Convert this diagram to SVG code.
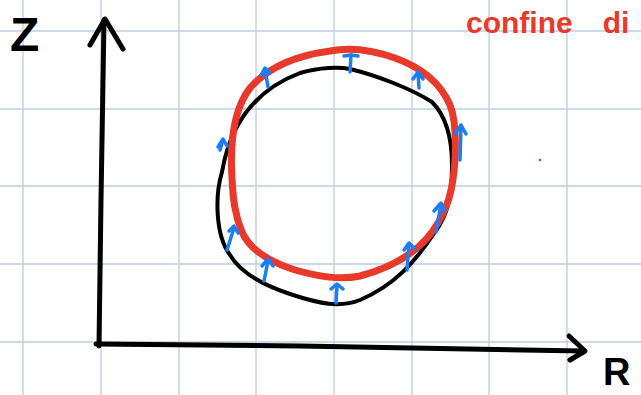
<svg xmlns="http://www.w3.org/2000/svg" width="641" height="395" viewBox="0 0 641 395">
<style>
.grid{stroke:#bccbe0;stroke-width:1.3}
.ax{fill:none;stroke:#000;stroke-width:5;stroke-linecap:round;stroke-linejoin:round}
.blk{fill:none;stroke:#000;stroke-width:4;stroke-linecap:round;stroke-linejoin:round}
.red{fill:none;stroke:#e8392a;stroke-width:7;stroke-linecap:round;stroke-linejoin:round}
.bl{fill:none;stroke:#1a7ef5;stroke-width:3.5;stroke-linecap:round;stroke-linejoin:round}
.lbl{font-family:"Liberation Sans",Arial,sans-serif;font-weight:bold;fill:#000}
</style>
<rect width="641" height="395" fill="#fff"/>
<g id="grid">
<line class="grid" x1="23" y1="0" x2="23" y2="395"/>
<line class="grid" x1="101" y1="0" x2="101" y2="395"/>
<line class="grid" x1="179" y1="0" x2="179" y2="395"/>
<line class="grid" x1="256" y1="0" x2="256" y2="395"/>
<line class="grid" x1="334" y1="0" x2="334" y2="395"/>
<line class="grid" x1="412" y1="0" x2="412" y2="395"/>
<line class="grid" x1="489" y1="0" x2="489" y2="395"/>
<line class="grid" x1="567" y1="0" x2="567" y2="395"/>
<line class="grid" x1="0" y1="31" x2="641" y2="31"/>
<line class="grid" x1="0" y1="109" x2="641" y2="109"/>
<line class="grid" x1="0" y1="186" x2="641" y2="186"/>
<line class="grid" x1="0" y1="264" x2="641" y2="264"/>
<line class="grid" x1="0" y1="342" x2="641" y2="342"/>
</g>
<g id="axes">
<path class="ax" d="M99 346 L101 200 L104 20"/>
<path class="ax" d="M90 45 L105 19 L123 49"/>
<path class="ax" d="M96 344 L300 346 L583 351"/>
<path class="ax" d="M569 336 L585 351 L570 360"/>
</g>
<text class="lbl" x="10" y="51" font-size="48">Z</text>
<text class="lbl" x="603" y="385" font-size="38">R</text>
<text x="466" y="33" font-family="'Liberation Sans',Arial,sans-serif" font-weight="bold" font-size="30" fill="#e8392a">confine<tspan dx="30">di</tspan></text>
<g id="black-curve">
<path class="blk" d="M222 172 C230 125 255 90 300 73 C320 67 340 67 350 69 C375 75 410 88 432 102 C445 115 452 135 452 165 C452 195 448 215 435 232 C415 262 395 285 360 300 C340 308 320 304 290 294 C260 284 240 272 230 255 C215 235 215 195 222 172 Z"/>
</g>
<g id="red-curve">
<path class="red" d="M232 178 C230 145 233 110 250 88 C270 65 300 55 330 51 C350 47 370 49 395 58 C420 67 440 82 450 105 C456 120 456 140 455 160 C453 190 448 210 432 232 C415 255 390 268 360 276 C340 280 320 277 295 270 C270 262 250 250 242 232 C235 215 233 200 232 178 Z"/>
</g>
<g id="blue-arrows">
<path class="bl" d="M220 150 L223 140"/><path class="bl" d="M218 147 L223 139 L227 146"/>
<path class="bl" d="M268 87 L265 69"/><path class="bl" d="M261 75 L265 68 L270 73"/>
<path class="bl" d="M350 72 L351 55"/><path class="bl" d="M344 56 L351 55 L358 56"/>
<path class="bl" d="M419 88 L418 73"/><path class="bl" d="M413 79 L418 72 L423 79"/>
<path class="bl" d="M460 160 L461 126"/><path class="bl" d="M455 134 L461 125 L466 134"/>
<path class="bl" d="M227 250 L234 228"/><path class="bl" d="M229 231 L234 226 L238 233"/>
<path class="bl" d="M264 281 L268 261"/><path class="bl" d="M262 266 L268 259 L273 266"/>
<path class="bl" d="M336 303 L337 286"/><path class="bl" d="M331 289 L337 284 L343 289"/>
<path class="bl" d="M407 270 L409 244"/><path class="bl" d="M404 250 L409 243 L415 249"/>
<path class="bl" d="M436 232 L441 204"/><path class="bl" d="M434 211 L441 203 L445 211"/>
<circle cx="540" cy="160" r="1.3" fill="#1a7ef5"/>
</g>
</svg>
